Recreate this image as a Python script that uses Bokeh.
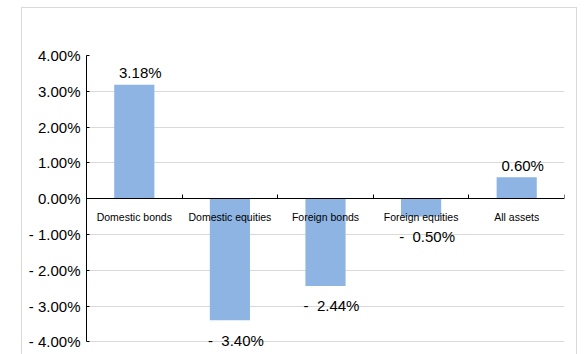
from bokeh.plotting import figure
from bokeh.models import Range1d, FixedTicker, CustomJSTickFormatter, ColumnDataSource, LabelSet
from bokeh.core.properties import value
from bokeh.embed import file_html
from bokeh.resources import INLINE

categories = ["Domestic bonds", "Domestic equities", "Foreign bonds", "Foreign equities", "All assets"]
returns_pct = [3.18, -3.40, -2.44, -0.50, 0.60]
y_ticks = [-4, -3, -2, -1, 0, 1, 2, 3, 4]

n = len(categories)
centers = [i + 0.5 for i in range(n)]
labels = [f"{v:.2f}%" if v >= 0 else f"-\u00a0\u00a0{abs(v):.2f}%" for v in returns_pct]
label_offsets = [12 if v >= 0 else -20 for v in returns_pct]

src = ColumnDataSource(dict(x=centers, top=returns_pct, label=labels, yoff=label_offsets,
                            cat=categories, zero=[0] * n))

FONT = "Liberation Sans"
y_lo, y_hi = y_ticks[0], y_ticks[-1]
pad = 0.41  # extra room below the last gridline so the lowest data label is not clipped

p = figure(width=556, height=348, output_backend="svg", toolbar_location=None,
           x_range=Range1d(0, n), y_range=Range1d(y_lo - pad, y_hi),
           min_border_left=64, min_border_right=14, min_border_top=47, min_border_bottom=0)
p.margin = (7, 0, 0, 21)
p.styles = {"border": "1px solid #d9d9d9"}
p.outline_line_color = None
p.background_fill_color = "white"
p.border_fill_color = "white"

p.vbar(x="x", top="top", width=0.42, bottom=0, source=src,
       fill_color="#8db4e2", line_color=None)

p.add_layout(LabelSet(x="x", y="top", text="label", y_offset="yoff", x_offset=6, source=src,
                      text_font=value(FONT), text_font_size="15px", text_color="#000000",
                      text_align="center", text_baseline="middle"))

p.text(x="x", y="zero", text="cat", y_offset=18, source=src,
       text_font=value(FONT), text_font_size="10.5px", text_color="#000000",
       text_align="center", text_baseline="middle")

# x axis at zero, tick marks on category boundaries
xa = p.xaxis[0]
xa.fixed_location = 0
xa.ticker = FixedTicker(ticks=[], minor_ticks=list(range(1, n + 1)))
xa.major_tick_line_color = None
xa.minor_tick_in = 4
xa.minor_tick_out = 0
xa.minor_tick_line_color = "#000000"
xa.axis_line_color = "#000000"

ya = p.yaxis[0]
ya.bounds = (y_lo, y_hi)
ya.ticker = FixedTicker(ticks=y_ticks)
ya.formatter = CustomJSTickFormatter(code="""
return tick < 0 ? "- " + Math.abs(tick).toFixed(2) + "%" : tick.toFixed(2) + "%";
""")
ya.major_tick_in = 3
ya.major_tick_out = 0
ya.minor_tick_line_color = None
ya.axis_line_color = "#000000"
ya.major_tick_line_color = "#000000"
ya.major_label_standoff = 6
ya.major_label_text_font = FONT
ya.major_label_text_font_size = "15px"
ya.major_label_text_color = "#000000"

p.xgrid.grid_line_color = None
p.ygrid.ticker = FixedTicker(ticks=y_ticks)
p.ygrid.grid_line_color = "#d9d9d9"

open("out.html", "w").write(file_html(p, INLINE))
